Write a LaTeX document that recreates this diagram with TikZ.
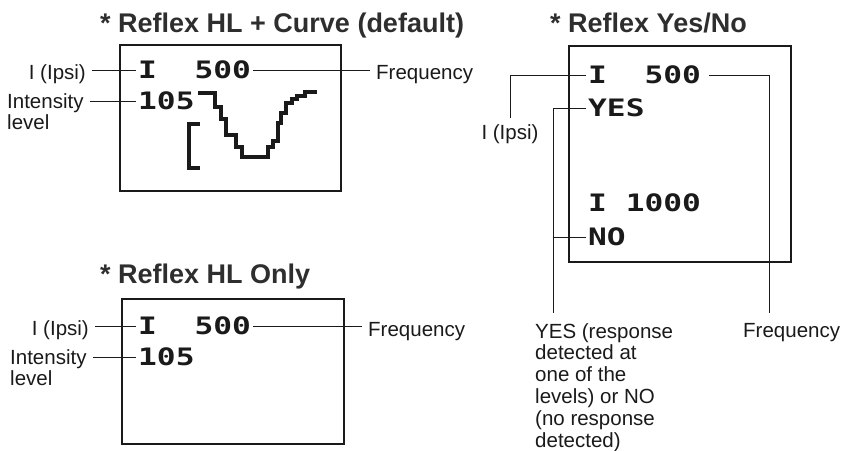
\documentclass[tikz,border=0pt]{standalone}
\usepackage{fontspec}
\setmainfont{Liberation Sans}
\newfontfamily\lcdfont{DejaVu Sans Mono}[FakeStretch=1.3]
\usetikzlibrary{positioning}
\definecolor{ScreenInk}{HTML}{1A1A1A}
\definecolor{TitleInk}{HTML}{2E2E2E}

\begin{document}
\begin{tikzpicture}[
    x=1pt,y=-1pt,
    screen/.style={draw=ScreenInk,line width=2.4pt,anchor=north west,inner sep=0pt},
    title/.style={anchor=base west,inner sep=0pt,text=TitleInk,font=\fontsize{27}{30}\selectfont\bfseries},
    lcd/.style={anchor=west,inner ysep=0pt,inner xsep=2pt,text=ScreenInk,font=\lcdfont\fontsize{24}{26}\selectfont\bfseries},
    lbl/.style={inner sep=0pt,text=ScreenInk,font=\fontsize{20.5}{21.8}\selectfont,align=left},
    lead/.style={draw=ScreenInk,line width=0.8pt},
    curve/.style={draw=ScreenInk,line width=3.4pt}
  ]
    \useasboundingbox (0,0) rectangle (854,450);

    % Reflex HL + Curve
    \node[title] (curvetitle) at (100,32) {* Reflex HL + Curve (default)};
    \node[screen,minimum width=221pt,minimum height=146pt] (curvebox) at (119,44) {};
    \node[lcd] (c1) at (136,70) {I\ \ 500};
    \node[lcd] (c2) at (136,101) {105};
    \node[lbl,anchor=base east] (c1l) at (86,79) {I (Ipsi)};
    \node[lbl,anchor=north west] (c2l) at (7,93) {Intensity\\level};
    \node[lbl,anchor=base west] (c1r) at (376,79) {Frequency};
    \draw[lead] (c1.west) -- ([xshift=6pt]c1.west -| c1l.east);
    \draw[lead] (c2.west) -- ([xshift=6pt]c2.west -| c2l.east);
    \draw[lead] (c1.east) -- ([xshift=-6pt]c1.east -| c1r.west);
    \draw[curve] (198,93) -- (215,93) -- (215,107) -- (221,107) -- (221,119) -- (226,119)
      -- (226,135) -- (236,135) -- (236,147) -- (242,147) -- (242,157) -- (268,157)
      -- (268,147) -- (273,147) -- (273,141) -- (278,141) -- (278,123) -- (281,123)
      -- (281,113) -- (286,113) -- (286,103) -- (292,103) -- (292,99) -- (297,99)
      -- (297,96) -- (305,96) -- (305,92) -- (317,92);
    \draw[curve] (200,124) -- (189,124) -- (189,168) -- (200,168);

    % Reflex HL Only
    \node[title] (onlytitle) at (100,283) {* Reflex HL Only};
    \node[screen,minimum width=222pt,minimum height=145pt] (onlybox) at (121,298) {};
    \node[lcd] (o1) at (136,326) {I\ \ 500};
    \node[lcd] (o2) at (136,357) {105};
    \node[lbl,anchor=base east] (o1l) at (89,335) {I (Ipsi)};
    \node[lbl,anchor=north west] (o2l) at (10,349) {Intensity\\level};
    \node[lbl,anchor=base west] (o1r) at (368,336) {Frequency};
    \draw[lead] (o1.west) -- ([xshift=6pt]o1.west -| o1l.east);
    \draw[lead] (o2.west) -- ([xshift=6pt]o2.west -| o2l.east);
    \draw[lead] (o1.east) -- ([xshift=-6pt]o1.east -| o1r.west);

    % Reflex Yes/No
    \node[title] (yntitle) at (550,32) {* Reflex Yes/No};
    \node[screen,minimum width=222pt,minimum height=216pt] (ynbox) at (568,45) {};
    \node[lcd] (y1) at (586,75) {I\ \ 500};
    \node[lcd] (y2) at (586,108) {YES};
    \node[lcd] (y3) at (586,203) {I 1000};
    \node[lcd] (y4) at (586,237) {NO};
    \node[lbl,anchor=north] (y1l) at (510,124) {I (Ipsi)};
    \coordinate (ynend) at (553,313);
    \coordinate (frend) at (769,313);
    \node[lbl,anchor=north west] (ynl) at (535,323) {YES (response\\detected at\\one of the\\levels) or NO\\(no response\\detected)};
    \node[lbl,anchor=north west] (frl) at (743,323) {Frequency};
    \draw[lead] (y1.west) -| ([yshift=6pt]y1l.north);
    \draw[lead] (y2.west) -| (ynend);
    \draw[lead] (y4.west) -| (ynend);
    \draw[lead] ([xshift=6pt]y1.east) -| (frend);
\end{tikzpicture}
\end{document}
